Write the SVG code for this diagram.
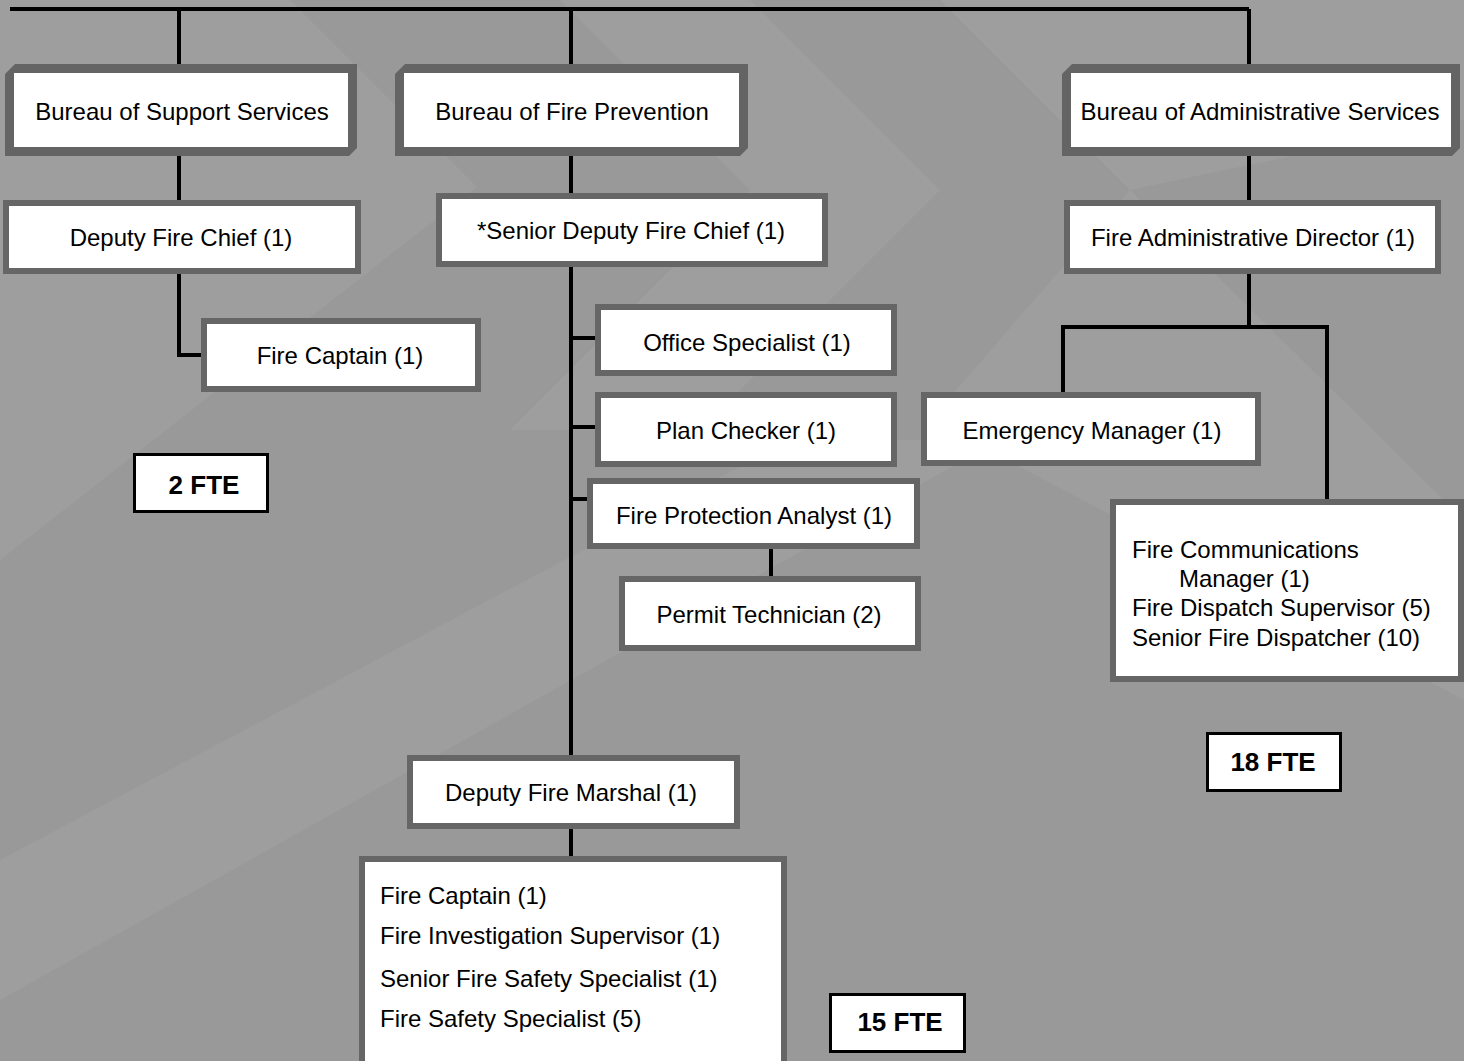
<svg xmlns="http://www.w3.org/2000/svg" width="1468" height="1061" viewBox="0 0 1468 1061">
  <style>
    .t { font-family: "Liberation Sans", Arial, Helvetica, sans-serif; font-size: 24px; fill: #000; }
    .c { text-anchor: middle; }
    .fte { font-family: "Liberation Sans", Arial, Helvetica, sans-serif; font-size: 26px; font-weight: bold; text-anchor: middle; fill: #000; }
    .box { fill: #fff; stroke: #666; stroke-width: 6; }
    .bureau-frame { fill: #646464; }
    .inner { fill: #fff; }
    .tot { fill: #fff; stroke: #000; stroke-width: 3; }
    .wire { fill: none; stroke: #000; stroke-width: 4; stroke-linecap: butt; stroke-linejoin: miter; }
    .band { fill: #9e9e9f; }
  </style>

  <!-- backdrop with soft chevron bands -->
  <rect x="0" y="0" width="1468" height="1061" fill="#fff"/>
  <rect x="0" y="0" width="1464" height="1061" fill="#99999a"/>
  <g id="backdrop-bands">
    <polygon class="band" points="560,0 750,0 940,190 700,430 510,430 750,190"/>
    <polygon class="band" points="0,0 290,0 477,187 0,560"/>
    <polygon class="band" points="940,0 1464,0 1464,120 1130,190"/>
    <polygon class="band" points="0,860 790,440 1000,440 0,1000"/>
    <polygon class="band" points="1130,190 1464,520 1464,700 930,420"/>
  </g>

  <!-- connectors -->
  <g id="connectors">
    <path class="wire" d="M10,9 H1249"/>
    <path class="wire" d="M179,9 V64"/>
    <path class="wire" d="M571,7 V64"/>
    <path class="wire" d="M1249,9 V64"/>
    <path class="wire" d="M179,156 V200"/>
    <path class="wire" d="M571,156 V193"/>
    <path class="wire" d="M1249,156 V200"/>
    <path class="wire" d="M179,274 V355 H201"/>
    <path class="wire" d="M571,267 V755"/>
    <path class="wire" d="M571,338 H595"/>
    <path class="wire" d="M571,427 H595"/>
    <path class="wire" d="M571,499 H587"/>
    <path class="wire" d="M771,549 V576"/>
    <path class="wire" d="M571,829 V856"/>
    <path class="wire" d="M1249,274 V327"/>
    <path class="wire" d="M1063,392 V327 H1327 V499"/>
  </g>

  <!-- bureaus -->
  <g id="bureau-support">
    <path class="bureau-frame" d="M15,64 H357 V148 L349,156 H5 V74 Z"/>
    <rect class="inner" x="14" y="73" width="334" height="74"/>
    <text class="t c" x="182" y="119.5">Bureau of Support Services</text>
  </g>
  <g id="bureau-prevention">
    <path class="bureau-frame" d="M405,64 H748 V148 L740,156 H395 V74 Z"/>
    <rect class="inner" x="404" y="73" width="335" height="74"/>
    <text class="t c" x="572" y="119.5">Bureau of Fire Prevention</text>
  </g>
  <g id="bureau-admin">
    <path class="bureau-frame" d="M1072,64 H1460 V148 L1452,156 H1062 V74 Z"/>
    <rect class="inner" x="1071" y="73" width="380" height="74"/>
    <text class="t c" x="1260" y="119.5">Bureau of Administrative Services</text>
  </g>

  <!-- support services -->
  <g id="deputy-fire-chief">
    <rect class="box" x="6" y="203" width="352" height="68"/>
    <text class="t c" x="181" y="246">Deputy Fire Chief (1)</text>
  </g>
  <g id="fire-captain-support">
    <rect class="box" x="204" y="321" width="274" height="68"/>
    <text class="t c" x="340" y="364">Fire Captain (1)</text>
  </g>
  <g id="fte-support">
    <rect class="tot" x="134.5" y="454.5" width="133" height="57"/>
    <text class="fte" x="204" y="494">2 FTE</text>
  </g>

  <!-- fire prevention -->
  <g id="senior-deputy-chief">
    <rect class="box" x="439" y="196" width="386" height="68"/>
    <text class="t c" x="631" y="239">*Senior Deputy Fire Chief (1)</text>
  </g>
  <g id="office-specialist">
    <rect class="box" x="598" y="307" width="296" height="66"/>
    <text class="t c" x="747" y="351">Office Specialist (1)</text>
  </g>
  <g id="plan-checker">
    <rect class="box" x="598" y="395" width="296" height="69"/>
    <text class="t c" x="746" y="439">Plan Checker (1)</text>
  </g>
  <g id="fire-protection-analyst">
    <rect class="box" x="590" y="481" width="327" height="65"/>
    <text class="t c" x="754" y="524">Fire Protection Analyst (1)</text>
  </g>
  <g id="permit-technician">
    <rect class="box" x="622" y="579" width="296" height="69"/>
    <text class="t c" x="769" y="623">Permit Technician (2)</text>
  </g>
  <g id="deputy-fire-marshal">
    <rect class="box" x="410" y="758" width="327" height="68"/>
    <text class="t c" x="571" y="801">Deputy Fire Marshal (1)</text>
  </g>
  <g id="marshal-staff">
    <rect class="box" x="362" y="859" width="422" height="230"/>
    <text class="t" x="380" y="904">Fire Captain (1)</text>
    <text class="t" x="380" y="944">Fire Investigation Supervisor (1)</text>
    <text class="t" x="380" y="987">Senior Fire Safety Specialist (1)</text>
    <text class="t" x="380" y="1027">Fire Safety Specialist (5)</text>
  </g>
  <g id="fte-prevention">
    <rect class="tot" x="830.5" y="994.5" width="134" height="57"/>
    <text class="fte" x="900" y="1031">15 FTE</text>
  </g>

  <!-- administrative services -->
  <g id="fire-admin-director">
    <rect class="box" x="1067" y="203" width="371" height="68"/>
    <text class="t c" x="1253" y="246">Fire Administrative Director (1)</text>
  </g>
  <g id="emergency-manager">
    <rect class="box" x="924" y="395" width="334" height="68"/>
    <text class="t c" x="1092" y="439">Emergency Manager (1)</text>
  </g>
  <g id="communications-staff">
    <rect class="box" x="1113" y="502" width="348" height="177"/>
    <text class="t" x="1132" y="558">Fire Communications</text>
    <text class="t" x="1179" y="587">Manager (1)</text>
    <text class="t" x="1132" y="616">Fire Dispatch Supervisor (5)</text>
    <text class="t" x="1132" y="646">Senior Fire Dispatcher (10)</text>
  </g>
  <g id="fte-admin">
    <rect class="tot" x="1207.5" y="733.5" width="133" height="57"/>
    <text class="fte" x="1273" y="771">18 FTE</text>
  </g>
</svg>
